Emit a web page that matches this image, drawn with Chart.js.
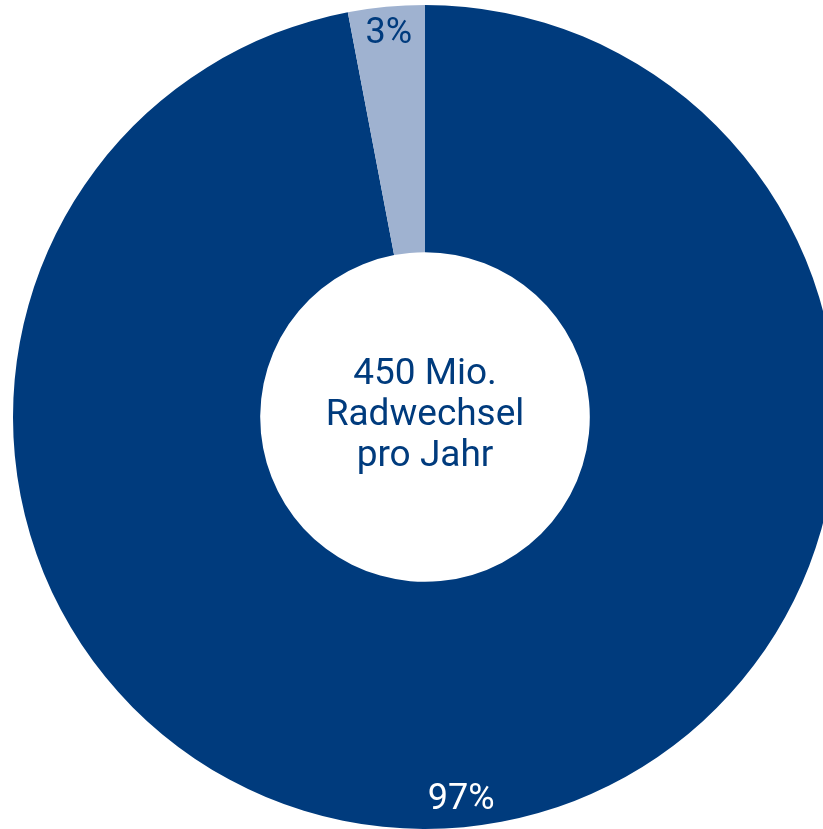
<!DOCTYPE html>
<html>
<head>
<meta charset="utf-8">
<script src="https://cdn.jsdelivr.net/npm/chart.js@4/dist/chart.umd.min.js"></script>
<style>
html,body{margin:0;padding:0;background:#fff;overflow:hidden;width:823px;height:829px;}
#wrap{position:absolute;left:0;top:0;width:850px;height:834px;}
</style>
</head>
<body>
<div id="wrap"><canvas id="c" width="850" height="834"></canvas></div>
<script>
const categories = ["Andere", "Radwechsel"];
const values = [97, 3];
const valueLabels = ["97%", "3%"];
const centerLines = ["450 Mio.", "Radwechsel", "pro Jahr"];
const colors = ["#003b7d", "#9fb2d0"];
const labelColors = ["#ffffff", "#003b7d"];

const labelPlugin = {
  id: 'sliceLabels',
  afterDatasetsDraw(chart) {
    const ctx = chart.ctx;
    const meta = chart.getDatasetMeta(0);
    ctx.save();
    ctx.font = '36px Roboto';
    ctx.textAlign = 'center';
    ctx.textBaseline = 'middle';
    meta.data.forEach((arc, i) => {
      const mid = (arc.startAngle + arc.endAngle) / 2;
      const r = arc.outerRadius - 27;
      ctx.fillStyle = labelColors[i];
      ctx.fillText(valueLabels[i], arc.x + Math.cos(mid) * r, arc.y + Math.sin(mid) * r);
    });
    const a = meta.data[0];
    ctx.fillStyle = '#003b7d';
    ctx.font = '37px Roboto';
    const lh = 41;
    centerLines.forEach((t, i) => {
      ctx.fillText(t, a.x, a.y - 1 + (i - 1) * lh);
    });
    ctx.restore();
  }
};

new Chart(document.getElementById('c'), {
  type: 'doughnut',
  data: {
    labels: categories,
    datasets: [{
      data: values,
      backgroundColor: colors,
      borderWidth: 0
    }]
  },
  options: {
    responsive: false,
    animation: false,
    cutout: '40%',
    layout: { padding: 5 },
    plugins: { legend: { display: false }, tooltip: { enabled: false } }
  },
  plugins: [labelPlugin]
});
</script>
</body>
</html>
